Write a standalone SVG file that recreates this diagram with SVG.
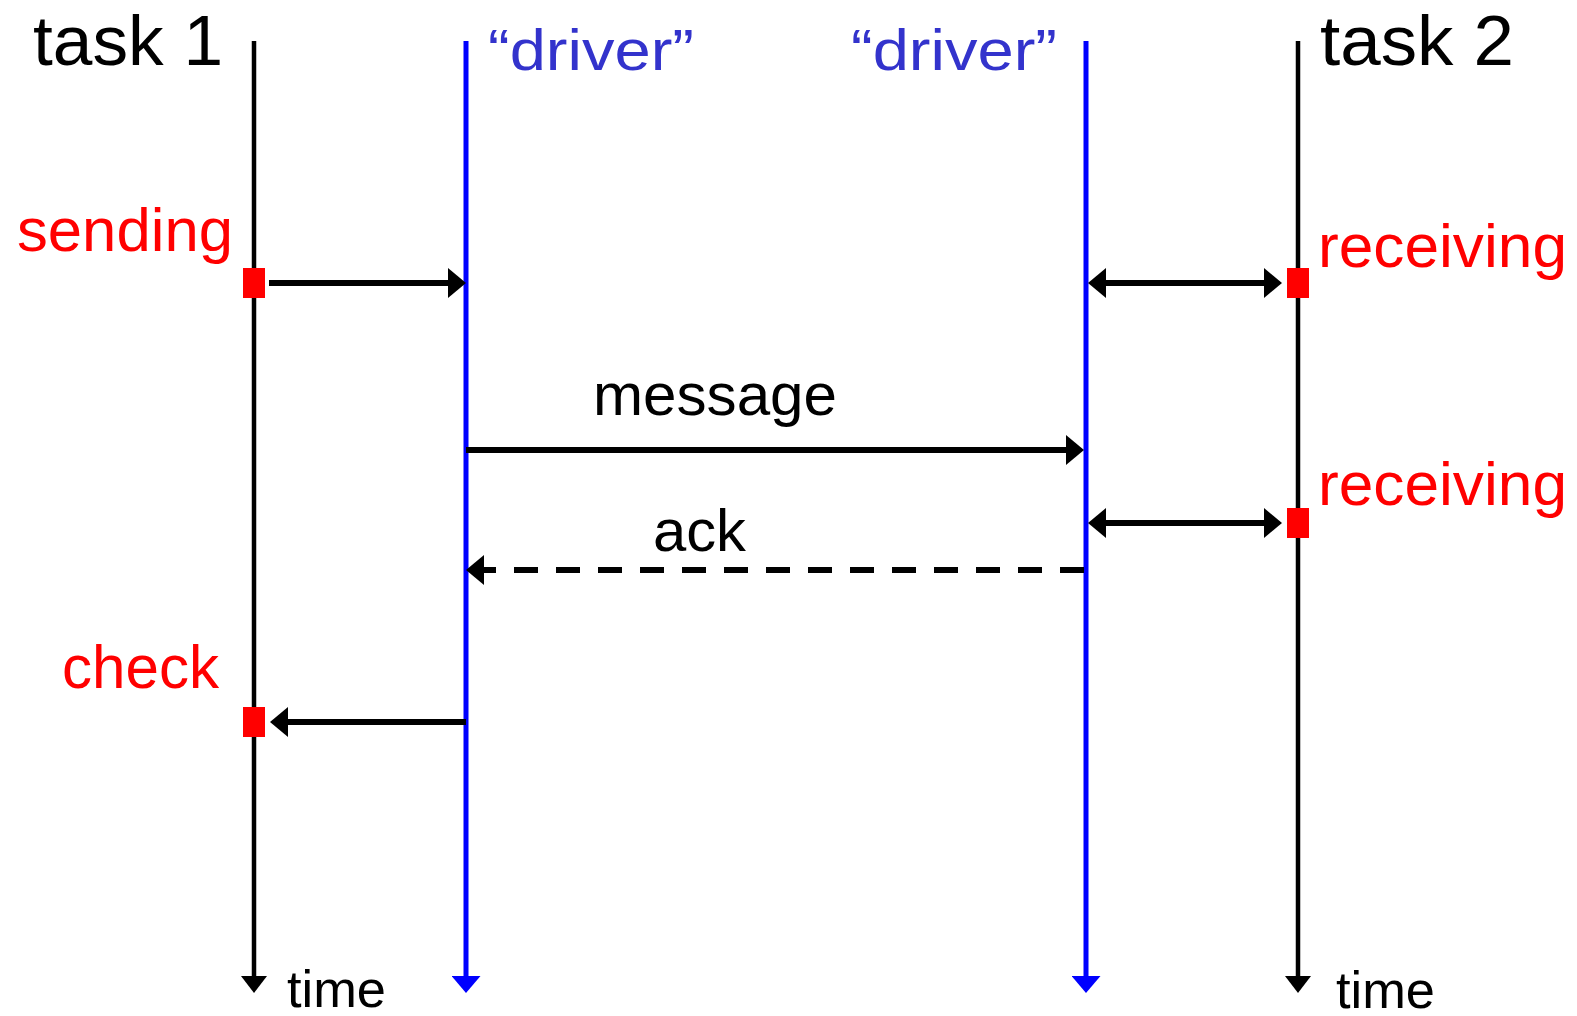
<svg xmlns="http://www.w3.org/2000/svg" width="1577" height="1016" viewBox="0 0 1577 1016">
  <style>
    text { font-family: "Liberation Sans", Arial, sans-serif; }
    .title { font-size: 70px; fill: #000; }
    .drv { font-size: 58px; fill: #3333CC; }
    .evt { font-size: 62px; fill: #FF0000; }
    .msg { font-size: 60px; fill: #000; }
    .time { font-size: 52px; fill: #000; }
    .task { stroke: #000; stroke-width: 4.5; fill: none; }
    .drvline { stroke: #0000FF; stroke-width: 5; fill: none; }
    .conn { stroke: #000; stroke-width: 6; fill: none; }
    .dash { stroke-dasharray: 24 18; }
    .mark { fill: #FF0000; }
  </style>
  <defs>
    <marker id="ah" markerUnits="userSpaceOnUse" markerWidth="18" markerHeight="30" refX="1" refY="15" orient="auto-start-reverse" viewBox="0 0 18 30">
      <path d="M0,0 L18,15 L0,30 z" fill="#000"/>
    </marker>
    <marker id="downBlack" markerUnits="userSpaceOnUse" markerWidth="17" markerHeight="26" refX="1" refY="13" orient="auto" viewBox="0 0 17 26">
      <path d="M0,0 L17,13 L0,26 z" fill="#000"/>
    </marker>
    <marker id="downBlue" markerUnits="userSpaceOnUse" markerWidth="17" markerHeight="29" refX="1" refY="14.5" orient="auto" viewBox="0 0 17 29">
      <path d="M0,0 L17,14.5 L0,29 z" fill="#0000FF"/>
    </marker>
  </defs>

  <!-- lifelines -->
  <g id="task1">
    <line class="task" x1="254" y1="41" x2="254" y2="977" marker-end="url(#downBlack)"/>
    <text class="title" x="33" y="65" textLength="190" lengthAdjust="spacingAndGlyphs">task 1</text>
    <text class="time" x="287" y="1007" textLength="99" lengthAdjust="spacingAndGlyphs">time</text>
  </g>
  <g id="driver1">
    <line class="drvline" x1="466" y1="41" x2="466" y2="977" marker-end="url(#downBlue)"/>
    <text class="drv" x="488" y="70" textLength="206" lengthAdjust="spacingAndGlyphs">“driver”</text>
  </g>
  <g id="driver2">
    <line class="drvline" x1="1086" y1="41" x2="1086" y2="977" marker-end="url(#downBlue)"/>
    <text class="drv" x="851" y="70" textLength="206" lengthAdjust="spacingAndGlyphs">“driver”</text>
  </g>
  <g id="task2">
    <line class="task" x1="1298" y1="41" x2="1298" y2="977" marker-end="url(#downBlack)"/>
    <text class="title" x="1320" y="65" textLength="194" lengthAdjust="spacingAndGlyphs">task 2</text>
    <text class="time" x="1336" y="1008" textLength="99" lengthAdjust="spacingAndGlyphs">time</text>
  </g>

  <!-- events on the task lines -->
  <g id="sending">
    <rect class="mark" x="243" y="268" width="22" height="30"/>
    <text class="evt" x="17" y="251" textLength="216" lengthAdjust="spacingAndGlyphs">sending</text>
  </g>
  <g id="check">
    <rect class="mark" x="243" y="707" width="22" height="30"/>
    <text class="evt" x="62" y="688" textLength="157" lengthAdjust="spacingAndGlyphs">check</text>
  </g>
  <g id="receiving1">
    <rect class="mark" x="1287" y="268" width="22" height="30"/>
    <text class="evt" x="1318" y="267" textLength="249" lengthAdjust="spacingAndGlyphs">receiving</text>
  </g>
  <g id="receiving2">
    <rect class="mark" x="1287" y="508" width="22" height="30"/>
    <text class="evt" x="1318" y="505" textLength="249" lengthAdjust="spacingAndGlyphs">receiving</text>
  </g>

  <!-- connectors -->
  <g id="connectors">
    <line class="conn" x1="269" y1="283" x2="449" y2="283" marker-end="url(#ah)"/>
    <line class="conn" x1="1105" y1="283" x2="1265" y2="283" marker-start="url(#ah)" marker-end="url(#ah)"/>
    <line class="conn" x1="466" y1="450" x2="1067" y2="450" marker-end="url(#ah)"/>
    <text class="msg" x="593" y="415" textLength="244" lengthAdjust="spacingAndGlyphs">message</text>
    <line class="conn" x1="1105" y1="523" x2="1265" y2="523" marker-start="url(#ah)" marker-end="url(#ah)"/>
    <line class="conn dash" x1="1084" y1="570" x2="483" y2="570" marker-end="url(#ah)"/>
    <text class="msg" x="653" y="551" textLength="93" lengthAdjust="spacingAndGlyphs">ack</text>
    <line class="conn" x1="466" y1="722" x2="287" y2="722" marker-end="url(#ah)"/>
  </g>
</svg>
